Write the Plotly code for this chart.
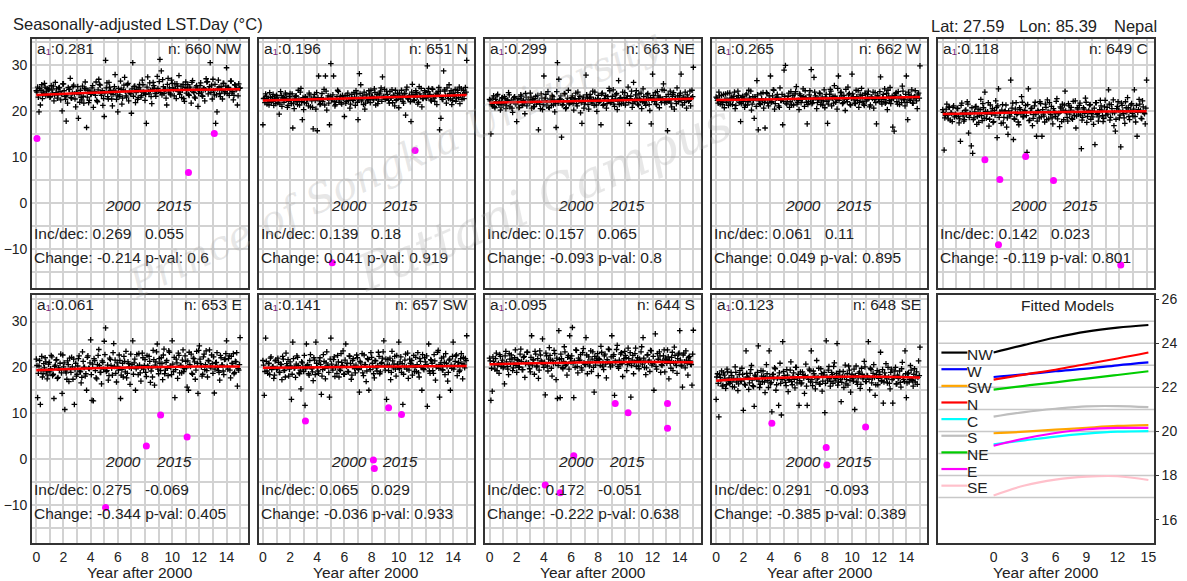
import numpy as np
import plotly.graph_objects as go

W, H = 1187, 581
FONT = "Arial, Liberation Sans, sans-serif"

# ---------------- panel metadata ----------------
panels = ["NW", "N", "NE", "W", "C", "E", "SW", "S", "SE"]
a1_vals = ["0.281", "0.196", "0.299", "0.265", "0.118", "0.061", "0.141", "0.095", "0.123"]
n_obs = [660, 651, 663, 662, 649, 653, 657, 644, 648]
inc_vals = ["0.269", "0.139", "0.157", "0.061", "0.142", "0.275", "0.065", "0.172", "0.291"]
dec_vals = ["0.055", "0.18", "0.065", "0.11", "0.023", "-0.069", "0.029", "-0.051", "-0.093"]
change_vals = ["-0.214", "0.041", "-0.093", "0.049", "-0.119", "-0.344", "-0.036", "-0.222", "-0.385"]
pval_vals = ["0.6", "0.919", "0.8", "0.895", "0.801", "0.405", "0.933", "0.638", "0.389"]

# ---------------- seasonally adjusted series, sampled at t = 0.0, 0.1, ... 15.0 yr ----------------
lst_NW = [24.5, 25.3, 19.9, 21.4, 25.8, 24.2, 26.1, 23.4, 25.0, 24.7,
          23.1, 25.6, 24.0, 22.3, 26.3, 24.9, 23.6, 25.2, 22.5, 20.1,
          26.0, 23.3, 17.9, 21.8, 24.8, 27.2, 22.9, 25.4, 23.8, 21.0,
          24.1, 18.5, 22.0, 23.0, 25.5, 21.8, 26.4, 16.5, 24.6, 22.4,
          23.7, 25.1, 20.9, 24.3, 26.4, 22.1, 27.0, 25.7, 23.5, 21.3,
          18.9, 31.1, 26.2, 22.7, 25.3, 23.9, 21.2, 24.5, 28.0, 22.6,
          19.9, 23.2, 26.6, 21.6, 24.7, 27.4, 23.4, 25.8, 22.3, 24.0,
          19.6, 30.6, 25.4, 21.9, 24.8, 23.0, 25.9, 23.1, 26.8, 24.2,
          22.4, 17.4, 27.5, 23.8, 24.6, 21.7, 26.3, 25.0, 23.3, 27.6,
          24.4, 31.3, 28.8, 26.9, 23.9, 24.8, 21.4, 27.2, 25.1, 23.6,
          26.1, 24.7, 26.0, 22.8, 25.5, 27.8, 24.2, 23.0, 25.9, 22.2,
          26.4, 24.9, 23.7, 25.3, 21.8, 26.7, 24.1, 22.9, 25.6, 21.1,
          24.6, 26.2, 23.4, 25.0, 22.3, 27.1, 26.5, 24.8, 30.6, 25.7,
          27.0, 23.6, 17.4, 19.9, 26.8, 23.9, 25.4, 22.7, 26.1, 24.3,
          29.5, 25.2, 23.5, 26.6, 24.0, 22.5, 25.8, 24.7, 21.4, 26.0, 25.1]
lst_N = [17.1, 22.9, 23.8, 21.6, 22.4, 24.1, 22.0, 23.2, 21.3, 22.7,
         23.5, 21.9, 19.4, 24.3, 21.1, 23.0, 22.8, 23.6, 20.9, 22.2,
         23.9, 21.7, 16.4, 20.6, 23.3, 22.1, 24.6, 21.4, 25.0, 18.2,
         20.4, 23.1, 21.8, 22.6, 24.0, 21.0, 22.3, 16.2, 23.7, 20.5,
         15.8, 27.7, 21.5, 23.0, 22.2, 24.8, 27.7, 20.3, 23.4, 17.1,
         30.4, 22.8, 27.7, 21.2, 22.5, 24.6, 22.0, 23.3, 21.6, 22.9,
         18.9, 21.8, 23.5, 22.4, 20.7, 23.0, 22.6, 24.1, 21.3, 23.8,
         18.2, 28.2, 25.8, 22.7, 21.5, 20.5, 23.6, 22.3, 24.5, 21.9,
         23.2, 22.8, 24.9, 21.4, 23.7, 22.5, 24.0, 25.1, 27.5, 23.3,
         22.6, 24.4, 23.0, 21.8, 22.9, 24.7, 23.5, 21.2, 22.4, 23.9,
         20.8, 23.1, 24.6, 22.2, 23.8, 19.2, 25.3, 22.7, 23.4, 17.8,
         25.9, 22.5, 23.6, 24.1, 21.6, 25.4, 23.2, 21.0, 22.8, 24.5,
         23.0, 29.9, 25.0, 23.7, 22.3, 24.8, 22.9, 23.4, 21.5, 24.3,
         16.0, 18.5, 22.6, 28.8, 24.4, 21.8, 23.3, 25.8, 22.7, 21.5,
         24.0, 23.5, 22.2, 24.6, 23.0, 21.7, 24.9, 23.6, 22.8, 25.2, 31.1]
lst_NE = [22.6, 15.1, 21.2, 23.4, 20.8, 22.1, 23.7, 21.5, 20.3, 22.9,
          21.4, 23.2, 20.6, 22.5, 24.1, 21.0, 22.3, 19.8, 23.0, 21.7,
          17.8, 22.8, 20.9, 23.6, 21.3, 22.4, 19.5, 23.1, 21.8, 22.2,
          24.0, 20.7, 22.6, 21.1, 23.3, 22.0, 16.0, 21.6, 23.8, 20.4,
          27.7, 22.9, 21.2, 24.3, 20.8, 22.5, 23.5, 21.4, 19.9, 16.5,
          30.6, 27.0, 22.7, 14.4, 21.5, 23.9, 20.6, 22.3, 24.6, 21.8,
          22.0, 23.4, 20.3, 22.8, 21.7, 24.2, 22.4, 19.7, 17.4, 23.1,
          21.6, 27.9, 22.9, 20.5, 23.7, 22.1, 24.4, 21.3, 22.6, 20.0,
          23.5, 22.2, 17.1, 24.0, 21.5, 22.8, 20.7, 23.2, 25.0, 21.9,
          22.5, 24.7, 21.1, 23.6, 20.4, 26.7, 22.9, 21.7, 24.2, 23.0,
          21.4, 22.8, 25.3, 17.4, 23.3, 20.9, 26.3, 22.1, 24.5, 21.6,
          23.8, 22.4, 20.6, 24.9, 22.0, 21.3, 23.6, 22.7, 20.2, 17.3,
          28.1, 22.9, 24.1, 21.5, 23.4, 20.8, 22.6, 24.7, 26.0, 21.9,
          23.2, 15.8, 22.3, 24.4, 21.0, 23.7, 20.5, 22.8, 25.1, 22.1,
          23.5, 28.1, 21.4, 22.9, 24.2, 20.7, 23.0, 22.4, 21.2, 24.6, 29.6]
lst_W = [23.1, 22.4, 24.2, 21.6, 23.5, 22.0, 20.8, 23.8, 22.6, 21.3,
         24.0, 22.9, 21.5, 23.3, 20.6, 22.7, 24.4, 21.9, 17.8, 23.0,
         22.2, 20.9, 23.6, 21.4, 24.6, 22.5, 20.3, 23.2, 18.5, 22.8,
         26.7, 16.0, 21.7, 23.9, 22.3, 20.7, 16.4, 24.1, 21.8, 23.4,
         27.7, 22.1, 24.7, 20.5, 22.9, 23.7, 21.2, 25.1, 22.4, 17.1,
         29.0, 30.0, 21.6, 23.3, 20.9, 24.3, 22.7, 21.4, 23.8, 25.4,
         22.0, 20.4, 23.5, 22.6, 24.9, 21.1, 23.0, 17.3, 22.2, 24.5,
         29.1, 21.9, 27.4, 23.4, 20.6, 22.8, 24.0, 21.5, 23.1, 22.3,
         20.8, 23.7, 17.4, 22.5, 24.8, 21.2, 23.3, 25.6, 22.0, 20.5,
         27.7, 22.9, 24.2, 21.7, 23.5, 20.2, 22.6, 25.3, 23.9, 21.4,
         28.1, 23.2, 21.8, 24.6, 22.4, 20.9, 23.6, 25.0, 22.1, 21.3,
         23.8, 22.6, 24.4, 21.0, 23.1, 22.8, 20.7, 24.1, 17.3, 23.4,
         22.2, 27.5, 21.6, 23.7, 24.9, 22.0, 20.4, 23.3, 25.2, 22.5,
         16.6, 15.7, 23.9, 22.1, 24.3, 21.5, 23.0, 25.5, 22.7, 21.2,
         27.7, 18.2, 23.6, 22.4, 24.7, 21.8, 23.2, 22.9, 20.6, 24.0, 29.9]
lst_C = [20.4, 11.6, 19.1, 21.6, 18.4, 20.9, 19.7, 17.8, 21.2, 19.3,
         18.9, 20.6, 17.5, 13.5, 21.8, 19.0, 18.2, 20.3, 22.1, 15.3,
         19.6, 12.5, 10.9, 18.6, 21.0, 17.2, 20.5, 19.2, 22.6, 18.0,
         20.8, 24.2, 18.5, 19.9, 16.8, 21.4, 19.4, 17.6, 20.2, 22.3,
         14.3, 24.9, 19.8, 17.4, 21.5, 18.7, 20.1, 16.6, 15.0, 19.5,
         26.8, 20.7, 13.9, 18.3, 21.9, 19.6, 17.1, 20.4, 23.2, 18.8,
         19.9, 21.3, 11.1, 24.9, 18.1, 20.6, 16.9, 19.3, 22.0, 14.6,
         20.2, 18.6, 21.7, 14.6, 19.4, 17.7, 20.9, 22.5, 18.4, 19.8,
         21.1, 17.3, 20.0, 18.9, 22.8, 19.5, 16.7, 20.7, 21.6, 18.2,
         24.4, 19.7, 17.9, 21.2, 20.3, 18.5, 22.2, 19.1, 16.4, 20.8,
         19.4, 21.8, 11.9, 18.7, 20.5, 22.9, 17.6, 19.9, 21.4, 18.3,
         20.1, 17.2, 12.8, 21.9, 19.6, 18.8, 22.4, 20.3, 17.8, 21.0,
         19.2, 20.9, 24.7, 18.1, 21.5, 19.7, 16.9, 15.7, 20.6, 22.1,
         18.6, 12.3, 21.3, 19.5, 17.4, 20.8, 23.0, 18.9, 20.2, 21.7,
         19.0, 24.7, 17.7, 14.6, 20.4, 21.6, 18.5, 22.3, 19.8, 17.3, 26.8]
lst_E = [21.8, 13.4, 20.3, 11.9, 22.4, 18.6, 19.9, 21.2, 17.5, 20.7,
         19.0, 22.6, 18.2, 13.2, 20.5, 21.7, 17.8, 19.4, 22.9, 14.3,
         20.1, 10.8, 18.8, 21.4, 16.9, 19.6, 22.2, 17.4, 11.9, 20.9,
         18.5, 21.9, 19.2, 16.6, 23.4, 20.0, 18.1, 15.0, 22.5, 19.7,
         26.0, 12.8, 12.7, 21.5, 17.7, 20.6, 23.9, 18.9, 16.4, 21.1,
         25.7, 28.6, 19.3, 17.2, 22.0, 20.4, 18.3, 25.2, 21.6, 16.8,
         20.2, 22.7, 13.2, 19.5, 17.9, 21.3, 23.5, 18.7, 20.8, 16.3,
         19.8, 25.8, 21.0, 15.0, 22.8, 18.4, 20.5, 17.0, 23.1, 19.6,
         21.7, 18.0, 20.3, 22.4, 16.7, 19.9, 23.7, 16.1, 21.2, 25.1,
         18.6, 20.9, 22.1, 17.3, 24.0, 19.4, 21.5, 18.2, 23.3, 20.0,
         25.8, 19.1, 13.4, 21.8, 17.6, 22.6, 20.4, 18.8, 23.8, 19.7,
         21.3, 15.7, 15.0, 20.6, 22.9, 18.5, 21.9, 17.4, 23.5, 14.3,
         24.7, 20.8, 18.1, 22.3, 19.5, 23.6, 17.9, 21.4, 20.2, 22.7,
         18.7, 14.4, 21.0, 23.2, 19.3, 17.2, 22.1, 20.5, 18.4, 21.8,
         25.8, 19.6, 22.5, 17.7, 20.9, 23.0, 18.9, 21.2, 15.9, 19.4, 26.5]
lst_SW = [21.5, 13.9, 26.4, 19.2, 20.8, 18.4, 22.3, 20.1, 17.6, 21.4,
          19.6, 22.0, 18.9, 20.7, 17.3, 21.8, 19.4, 23.1, 20.3, 18.1,
          21.2, 13.0, 25.5, 19.8, 17.8, 22.5, 20.4, 18.6, 15.3, 21.0,
          19.1, 11.7, 25.1, 20.6, 18.3, 22.8, 19.7, 17.1, 21.6, 25.5,
          20.0, 18.7, 22.1, 14.1, 19.5, 21.3, 17.5, 23.4, 20.2, 13.5,
          26.4, 19.9, 21.7, 18.0, 20.5, 22.6, 17.9, 19.3, 21.1, 23.6,
          18.5, 25.1, 20.9, 19.0, 22.4, 17.4, 21.5, 20.3, 18.8, 22.7,
          19.8, 14.6, 21.0, 23.0, 18.2, 20.6, 16.9, 21.9, 15.0, 19.5,
          22.2, 20.0, 17.7, 21.4, 19.2, 23.3, 18.6, 20.8, 22.0, 25.8,
          19.4, 13.0, 21.7, 20.5, 17.3, 23.5, 19.9, 22.4, 18.1, 20.7,
          25.5, 21.2, 18.9, 11.9, 20.1, 22.9, 19.6, 17.6, 21.8, 20.4,
          18.3, 22.6, 20.0, 19.1, 23.2, 17.9, 21.3, 15.0, 19.7, 22.1,
          20.6, 11.5, 25.1, 18.7, 21.5, 19.3, 22.8, 17.2, 20.2, 23.7,
          13.5, 21.0, 19.5, 22.3, 18.4, 20.9, 17.0, 21.6, 15.0, 19.8,
          25.5, 20.3, 22.5, 18.2, 21.1, 19.4, 23.0, 17.5, 20.7, 21.9, 26.9]
lst_S = [22.0, 12.8, 14.8, 21.3, 19.6, 23.1, 20.5, 18.7, 22.4, 21.0,
         19.9, 16.4, 23.5, 20.2, 18.4, 21.8, 22.7, 19.3, 20.9, 23.8,
         18.9, 21.5, 20.1, 24.0, 19.5, 22.2, 17.8, 21.1, 23.3, 20.6,
         19.0, 26.9, 21.7, 18.5, 22.9, 20.3, 17.6, 23.6, 21.4, 26.2,
         20.0, 14.0, 22.5, 19.2, 24.3, 21.6, 18.1, 20.8, 23.0, 17.3,
         13.2, 28.0, 13.4, 21.9, 19.7, 24.5, 20.4, 18.3, 22.6, 26.9,
         21.2, 28.7, 13.4, 20.0, 23.7, 18.8, 21.5, 22.8, 19.4, 24.1,
         20.7, 26.5, 18.6, 22.3, 21.0, 19.1, 23.4, 14.6, 20.5, 22.0,
         18.2, 21.7, 24.6, 20.3, 19.5, 22.9, 17.7, 21.3, 23.9, 20.1,
         26.9, 22.4, 13.9, 21.1, 24.8, 19.8, 20.6, 23.2, 18.0, 21.9,
         22.6, 19.3, 24.2, 20.9, 13.5, 21.6, 18.6, 23.0, 20.2, 22.1,
         19.7, 21.4, 24.5, 26.5, 20.0, 18.4, 22.7, 21.2, 19.1, 23.6,
         20.8, 15.0, 27.3, 19.6, 21.8, 23.4, 18.9, 20.4, 22.5, 19.0,
         21.7, 23.8, 17.5, 20.9, 22.2, 19.3, 24.4, 21.0, 18.7, 22.9,
         28.0, 20.5, 15.7, 23.1, 19.9, 21.6, 18.3, 22.4, 20.7, 16.1, 28.1]
lst_SE = [13.0, 18.6, 9.2, 17.8, 19.2, 16.1, 18.3, 15.4, 19.6, 17.0,
          16.5, 18.9, 15.8, 17.5, 20.1, 16.8, 14.9, 18.4, 17.2, 19.8,
          10.6, 16.3, 23.6, 17.9, 15.2, 18.7, 20.4, 16.0, 11.5, 18.1,
          17.4, 24.7, 15.6, 19.3, 16.9, 18.0, 14.5, 20.6, 17.1, 23.6,
          16.4, 10.3, 18.5, 19.9, 15.0, 17.6, 11.7, 20.9, 9.6, 25.6,
          18.2, 16.7, 19.5, 14.7, 17.3, 21.2, 16.2, 18.8, 15.5, 20.0,
          17.7, 11.7, 19.0, 16.6, 18.4, 14.3, 20.7, 11.7, 17.4, 19.3,
          23.6, 16.0, 18.6, 15.3, 21.5, 17.8, 16.4, 19.7, 14.8, 18.3,
          10.1, 25.8, 17.2, 20.2, 15.9, 18.9, 16.5, 21.0, 17.6, 25.2,
          16.8, 19.1, 12.5, 18.0, 15.6, 20.5, 17.3, 16.1, 19.4, 14.6,
          18.5, 17.0, 10.8, 20.3, 16.3, 18.7, 15.4, 19.8, 17.5, 21.3,
          16.9, 18.2, 25.6, 15.1, 19.5, 17.7, 20.6, 13.9, 18.4, 16.2,
          19.0, 23.3, 17.1, 12.2, 18.8, 20.8, 16.6, 17.9, 15.3, 19.6,
          12.2, 18.1, 20.0, 16.4, 17.6, 19.2, 15.7, 21.1, 17.3, 23.6,
          13.4, 18.6, 16.8, 20.4, 17.4, 15.9, 19.7, 18.0, 16.3, 21.4, 24.4]

# ---------------- second set of samples, at t = 0.05, 0.15, ... 14.95 yr ----------------
lst2_NW = [24.2, 23.1, 25.0, 24.6, 22.8, 23.9, 25.3, 24.4, 23.5, 24.9,
           23.2, 24.7, 25.5, 23.6, 24.1, 22.9, 25.1, 24.3, 23.8, 26.0,
           24.5, 22.6, 23.4, 25.2, 24.8, 23.0, 24.0, 25.7, 22.7, 24.2,
           25.4, 23.7, 24.6, 22.5, 23.3, 25.0, 24.9, 23.1, 21.9, 24.4,
           23.8, 25.6, 24.2, 23.5, 22.4, 24.7, 25.9, 23.9, 24.5, 22.8,
           24.0, 25.1, 23.2, 26.3, 24.6, 22.7, 23.7, 25.4, 24.3, 23.4,
           25.0, 23.6, 24.8, 22.9, 25.7, 24.4, 23.1, 26.1, 24.2, 23.8,
           24.9, 23.3, 25.5, 24.1, 22.6, 25.2, 24.6, 23.5, 25.8, 24.0,
           23.7, 25.3, 24.4, 26.2, 23.2, 24.8, 25.6, 23.9, 24.3, 25.0,
           26.5, 24.1, 23.6, 25.4, 24.7, 22.9, 25.9, 24.2, 23.8, 26.8,
           25.1, 23.4, 24.9, 26.0, 24.3, 23.7, 25.5, 24.6, 22.8, 25.2,
           24.0, 25.8, 23.5, 24.8, 26.3, 24.4, 23.1, 25.3, 24.9, 23.9,
           25.6, 24.2, 23.3, 25.0, 24.7, 26.4, 23.8, 25.4, 24.1, 22.7,
           24.5, 25.9, 23.6, 24.9, 25.3, 23.2, 24.6, 26.1, 24.0, 25.5,
           23.9, 25.2, 24.7, 26.6, 24.3, 23.5, 25.7, 24.9, 23.4, 25.0]
lst2_N = [22.8, 21.9, 23.3, 22.5, 21.4, 23.0, 22.2, 23.7, 22.6, 21.7,
          23.1, 22.4, 21.6, 23.5, 22.9, 22.0, 24.0, 22.7, 21.3, 23.2,
          22.5, 23.8, 21.8, 22.9, 23.4, 21.5, 22.7, 24.2, 22.1, 23.0,
          21.9, 23.2, 22.6, 21.2, 23.6, 22.8, 20.9, 23.1, 22.4, 24.1,
          23.0, 22.3, 21.7, 23.9, 22.6, 21.4, 24.4, 22.9, 21.8, 23.3,
          22.5, 23.6, 22.1, 21.5, 23.2, 24.3, 22.7, 21.9, 23.5, 22.8,
          23.4, 22.2, 24.0, 22.8, 21.6, 23.7, 22.4, 23.1, 24.5, 22.0,
          22.7, 23.9, 22.3, 23.4, 24.2, 21.8, 23.0, 22.6, 23.8, 24.6,
          23.3, 22.5, 24.1, 22.9, 21.7, 23.6, 24.4, 22.2, 23.1, 24.8,
          22.8, 23.7, 22.4, 24.3, 23.0, 21.9, 23.5, 24.6, 22.6, 23.2,
          24.0, 22.7, 23.4, 21.8, 23.9, 24.7, 22.9, 23.3, 22.1, 24.2,
          23.6, 22.4, 24.5, 23.1, 22.0, 23.8, 25.0, 22.8, 23.5, 24.1,
          22.9, 24.3, 23.6, 22.5, 24.9, 23.2, 22.2, 24.0, 23.7, 25.2,
          24.4, 23.0, 22.6, 24.7, 23.4, 25.1, 22.8, 23.9, 24.5, 22.4,
          23.3, 24.8, 22.9, 24.1, 25.3, 23.5, 22.6, 24.6, 23.8, 24.2]
lst2_NE = [22.3, 21.5, 22.9, 21.1, 22.6, 23.4, 21.8, 22.2, 20.9, 23.0,
           21.7, 22.8, 21.3, 22.4, 23.6, 21.9, 20.7, 22.5, 23.2, 21.6,
           22.1, 20.8, 22.7, 23.3, 21.4, 22.0, 23.9, 21.2, 22.6, 21.8,
           23.1, 22.3, 21.0, 22.8, 21.6, 23.5, 22.2, 20.6, 22.9, 21.5,
           22.4, 23.7, 21.9, 20.9, 22.7, 21.3, 23.2, 22.5, 21.7, 24.3,
           21.8, 22.6, 23.4, 21.4, 22.1, 23.8, 20.8, 22.9, 21.6, 22.3,
           23.0, 21.7, 22.5, 24.0, 21.2, 22.8, 23.3, 21.9, 22.4, 20.7,
           22.2, 23.6, 21.5, 22.9, 23.1, 21.8, 22.6, 24.2, 21.4, 22.7,
           21.9, 22.4, 23.8, 21.3, 22.8, 23.5, 21.7, 22.3, 24.5, 22.0,
           23.3, 21.6, 22.7, 23.9, 22.2, 21.5, 23.0, 22.6, 21.8, 24.1,
           22.5, 23.4, 21.9, 22.8, 24.4, 21.7, 22.3, 23.6, 22.9, 21.4,
           22.7, 24.0, 22.1, 23.2, 21.8, 22.6, 23.9, 21.5, 23.0, 22.4,
           23.5, 22.2, 21.6, 24.3, 22.9, 23.1, 21.9, 22.7, 24.6, 22.3,
           22.0, 23.7, 22.5, 21.8, 23.3, 24.1, 22.6, 21.7, 23.4, 22.8,
           24.0, 22.4, 23.1, 21.9, 22.7, 23.6, 22.2, 24.4, 22.9, 23.2]
lst2_W = [22.9, 21.8, 23.4, 22.2, 21.5, 23.7, 22.6, 21.9, 24.0, 22.3,
          21.6, 23.1, 22.5, 24.2, 21.3, 22.8, 23.5, 22.0, 21.7, 23.3,
          22.7, 21.4, 23.8, 22.1, 22.9, 24.4, 21.6, 22.4, 23.2, 21.1,
          23.6, 22.3, 21.5, 22.8, 24.1, 21.9, 22.6, 23.9, 21.2, 22.5,
          22.0, 23.4, 24.6, 21.7, 22.9, 23.1, 20.9, 22.4, 23.7, 22.2,
          23.3, 21.8, 22.6, 24.0, 22.1, 21.4, 23.5, 22.8, 24.3, 21.6,
          22.4, 23.8, 21.9, 22.7, 23.2, 24.5, 22.0, 21.5, 23.6, 22.9,
          21.7, 22.5, 24.2, 23.0, 21.9, 22.6, 23.9, 22.3, 21.4, 24.7,
          23.1, 22.2, 21.6, 23.7, 24.4, 22.8, 21.8, 23.3, 22.6, 25.0,
          22.4, 24.1, 23.4, 21.9, 22.7, 24.8, 22.1, 23.6, 21.5, 22.9,
          23.8, 22.5, 21.7, 23.2, 24.5, 22.0, 22.9, 23.5, 21.6, 24.0,
          22.3, 23.7, 22.8, 21.4, 23.1, 24.2, 22.6, 21.9, 23.4, 22.7,
          24.3, 22.1, 23.0, 22.6, 21.8, 23.9, 24.6, 22.4, 21.7, 23.3,
          22.8, 23.5, 24.1, 21.6, 22.9, 23.2, 21.9, 24.4, 22.5, 23.7,
          22.0, 24.2, 22.7, 23.4, 21.8, 23.0, 24.5, 22.3, 23.6, 22.9]
lst2_C = [19.8, 18.6, 20.5, 19.2, 21.0, 18.1, 19.6, 20.9, 18.8, 19.4,
          20.7, 19.0, 18.4, 21.3, 19.7, 17.9, 20.2, 19.3, 21.6, 18.7,
          19.5, 20.8, 18.2, 19.9, 21.1, 18.9, 17.6, 20.4, 19.1, 21.7,
          18.5, 20.0, 19.4, 21.9, 18.3, 19.8, 20.6, 17.8, 19.2, 20.9,
          21.2, 18.7, 19.6, 20.3, 17.5, 19.9, 21.4, 18.6, 20.1, 19.0,
          19.7, 21.8, 18.4, 20.5, 19.3, 17.7, 20.8, 19.5, 22.0, 18.9,
          20.2, 19.1, 21.5, 18.0, 19.8, 20.7, 18.5, 21.2, 19.4, 17.9,
          19.9, 22.1, 18.8, 20.4, 19.0, 21.6, 18.2, 20.0, 21.9, 19.3,
          18.6, 20.6, 19.7, 22.2, 18.4, 19.6, 21.0, 17.8, 20.3, 21.4,
          20.1, 18.7, 21.7, 19.4, 20.9, 18.3, 19.8, 22.3, 19.0, 20.5,
          21.3, 19.2, 18.1, 20.8, 19.6, 22.0, 18.9, 20.2, 21.5, 19.5,
          18.8, 20.7, 21.9, 19.3, 17.9, 20.4, 21.2, 19.1, 18.5, 22.4,
          20.0, 19.4, 21.6, 18.7, 20.6, 22.5, 19.7, 18.3, 21.1, 20.3,
          19.2, 21.8, 20.1, 18.6, 22.1, 19.9, 20.8, 18.2, 21.4, 19.6,
          20.5, 18.9, 21.3, 19.8, 22.6, 20.2, 18.4, 21.0, 19.5, 20.7]
lst2_E = [20.4, 18.7, 21.5, 19.3, 17.9, 20.8, 22.1, 19.0, 18.3, 21.1,
          19.7, 22.3, 18.5, 20.2, 21.6, 17.6, 19.9, 20.9, 18.8, 22.7,
          21.0, 19.2, 17.4, 20.6, 22.0, 18.9, 20.1, 21.8, 19.5, 18.1,
          20.3, 22.5, 19.0, 17.8, 21.3, 20.0, 18.6, 22.2, 19.8, 21.0,
          18.4, 20.7, 21.9, 19.3, 17.5, 22.6, 20.4, 18.9, 21.4, 19.6,
          22.8, 19.1, 20.5, 18.2, 21.7, 19.8, 23.2, 20.2, 18.7, 21.0,
          19.4, 21.5, 18.3, 20.9, 22.4, 19.0, 17.7, 21.2, 20.1, 22.9,
          20.6, 18.5, 21.8, 19.7, 20.3, 23.0, 18.8, 19.9, 22.1, 20.4,
          18.9, 22.6, 20.0, 21.3, 19.2, 17.9, 21.7, 20.5, 23.4, 19.6,
          21.9, 19.3, 20.8, 22.7, 18.6, 21.1, 19.8, 23.6, 20.3, 18.4,
          20.7, 22.2, 19.5, 21.0, 23.1, 18.8, 20.4, 21.6, 19.1, 22.5,
          19.9, 21.4, 23.3, 20.2, 18.7, 22.0, 21.2, 19.4, 20.9, 23.7,
          21.8, 20.1, 18.5, 22.9, 20.6, 19.3, 21.5, 23.8, 19.9, 20.8,
          22.3, 19.6, 21.1, 20.0, 18.9, 22.6, 20.5, 19.2, 21.7, 23.0,
          20.2, 21.9, 19.4, 22.4, 20.8, 18.6, 21.3, 23.2, 19.7, 20.6]
lst2_SW = [20.5, 19.1, 21.3, 18.7, 20.9, 22.0, 19.5, 20.2, 18.3, 21.6,
           19.8, 21.1, 18.9, 20.6, 22.4, 19.3, 17.9, 20.8, 21.7, 19.6,
           20.3, 18.5, 21.9, 19.9, 20.7, 22.2, 18.8, 19.4, 21.2, 20.0,
           22.6, 19.7, 20.4, 18.6, 21.5, 20.1, 19.0, 22.1, 18.4, 20.9,
           19.2, 21.4, 20.6, 18.1, 22.8, 19.8, 21.0, 20.3, 18.9, 21.8,
           20.7, 19.4, 22.3, 20.0, 18.7, 21.2, 19.6, 23.0, 20.4, 18.5,
           21.6, 20.2, 19.1, 22.5, 20.8, 18.3, 21.9, 19.7, 20.5, 22.1,
           19.5, 21.3, 20.0, 18.8, 22.7, 20.6, 19.2, 21.7, 20.1, 23.2,
           20.9, 18.6, 21.5, 19.9, 20.4, 22.4, 19.0, 21.1, 23.4, 20.3,
           21.8, 20.5, 19.3, 22.0, 18.9, 21.4, 20.7, 19.6, 22.6, 20.0,
           19.7, 22.3, 20.8, 18.5, 21.6, 20.2, 23.1, 19.4, 20.9, 21.5,
           20.4, 19.1, 22.2, 20.6, 18.8, 21.9, 20.0, 22.8, 19.5, 21.2,
           22.5, 20.3, 19.2, 21.7, 20.9, 18.7, 21.4, 20.1, 23.3, 19.8,
           20.6, 22.0, 19.4, 21.1, 23.0, 20.2, 18.9, 21.8, 20.5, 22.4,
           19.6, 21.3, 22.7, 20.4, 19.1, 21.9, 20.8, 22.2, 19.9, 21.5]
lst2_S = [21.4, 19.8, 22.3, 20.6, 21.9, 19.3, 20.9, 22.8, 20.2, 21.6,
          20.1, 22.5, 21.2, 19.6, 23.0, 20.7, 21.8, 19.9, 22.1, 20.4,
          21.7, 20.0, 22.9, 21.3, 19.5, 22.4, 20.8, 23.3, 21.0, 19.7,
          22.2, 20.5, 21.6, 23.5, 20.1, 21.9, 19.4, 22.7, 21.2, 20.6,
          21.1, 23.1, 20.3, 21.8, 22.6, 19.8, 21.5, 23.7, 20.9, 22.0,
          20.4, 21.7, 22.9, 20.0, 21.3, 23.4, 20.7, 22.2, 19.6, 21.9,
          22.5, 20.8, 21.4, 23.8, 20.2, 22.0, 21.6, 19.9, 23.2, 21.0,
          20.6, 22.7, 21.2, 20.3, 23.6, 21.8, 20.0, 22.4, 21.5, 23.0,
          21.9, 20.4, 23.3, 21.1, 22.5, 20.7, 21.7, 24.0, 20.9, 22.3,
          20.5, 22.8, 21.4, 23.9, 20.2, 21.6, 22.9, 20.8, 21.3, 23.5,
          22.1, 20.6, 21.9, 23.2, 20.4, 22.6, 21.0, 24.2, 21.5, 20.3,
          21.8, 23.4, 20.7, 22.0, 21.3, 19.9, 22.8, 21.6, 23.7, 20.5,
          22.4, 21.1, 20.2, 23.0, 21.7, 22.5, 20.6, 21.4, 23.8, 22.0,
          20.9, 22.3, 21.5, 19.8, 23.3, 21.0, 22.6, 20.4, 21.9, 23.1,
          21.6, 20.3, 22.7, 21.2, 23.6, 20.8, 22.1, 21.4, 20.6, 22.9]
lst2_SE = [17.9, 16.5, 18.4, 17.1, 15.9, 18.8, 17.5, 16.2, 19.0, 17.7,
           16.8, 18.2, 17.3, 15.7, 18.9, 17.6, 16.4, 19.3, 17.0, 18.5,
           17.4, 16.1, 18.7, 17.8, 16.6, 19.5, 17.2, 15.8, 18.3, 17.6,
           18.9, 17.0, 16.3, 18.1, 19.2, 16.8, 17.7, 18.6, 15.6, 17.9,
           16.7, 18.4, 17.5, 19.7, 16.2, 17.8, 18.8, 16.5, 17.3, 19.1,
           17.6, 16.0, 18.3, 17.2, 19.4, 16.9, 18.0, 17.4, 20.0, 16.6,
           18.5, 17.1, 16.4, 19.0, 17.7, 18.2, 15.9, 17.9, 19.6, 16.8,
           17.3, 19.2, 18.1, 16.7, 17.5, 19.8, 16.3, 18.6, 17.0, 18.9,
           16.5, 18.0, 19.4, 17.6, 16.9, 18.4, 20.2, 17.2, 18.7, 16.1,
           18.3, 17.4, 16.7, 19.1, 17.9, 16.4, 18.6, 20.3, 17.1, 18.0,
           17.5, 19.6, 18.2, 16.8, 17.7, 19.0, 16.3, 18.5, 17.9, 20.1,
           16.9, 18.1, 17.4, 19.8, 16.6, 18.7, 17.8, 16.2, 19.3, 17.6,
           18.4, 17.0, 19.5, 16.8, 18.1, 17.5, 20.0, 16.5, 18.9, 17.3,
           17.7, 19.2, 16.4, 18.3, 17.9, 16.7, 19.7, 18.0, 16.9, 18.6,
           16.6, 18.8, 17.4, 19.4, 17.1, 18.5, 16.8, 19.0, 17.8, 18.2]

# ---------------- anomalies (magenta) ----------------
out_NW_x, out_NW_y = [0.05, 11.2, 13.1], [14.1, 6.7, 15.2]
out_N_x, out_N_y = [11.2, 5.1], [11.5, -12.9]
out_NE_x, out_NE_y = [], []
out_W_x, out_W_y = [], []
out_C_x, out_C_y = [3.1, 4.2, 6.1, 8.15, 4.1, 13.1], [9.5, 5.2, 10.2, 5.0, -9.0, -13.4]
out_E_x, out_E_y = [8.1, 9.15, 11.1, 5.1], [2.85, 9.6, 4.8, -10.6]
out_SW_x, out_SW_y = [3.13, 9.25, 10.2, 8.13, 8.2], [8.3, 11.2, 9.7, -0.2, -2.1]
out_S_x, out_S_y = [9.25, 10.2, 13.1, 13.1, 6.2, 4.1, 5.2], [12.1, 10.1, 12.1, 6.7, 0.7, -5.7, -7.4]
out_SE_x, out_SE_y = [4.1, 11.0, 8.1, 8.15], [7.8, 7.0, 2.5, -1.3]

# ---------------- fitted models ----------------
model_x = [0, 3, 6, 9, 12, 15]
mod_NW = [23.58, 23.93, 24.26, 24.53, 24.71, 24.83]
mod_N = [22.35, 22.58, 22.80, 23.06, 23.31, 23.58]
mod_NE = [21.90, 22.07, 22.23, 22.40, 22.56, 22.73]
mod_W = [22.47, 22.59, 22.73, 22.85, 23.00, 23.13]
mod_C = [19.42, 19.60, 19.77, 19.90, 19.99, 20.02]
mod_E = [19.35, 19.68, 19.93, 20.10, 20.16, 20.16]
mod_SW = [19.92, 19.99, 20.08, 20.17, 20.25, 20.29]
mod_S = [20.67, 20.88, 21.03, 21.14, 21.15, 21.10]
mod_SE = [17.10, 17.55, 17.82, 17.95, 17.97, 17.80]

legend_order = ["NW", "W", "SW", "N", "C", "S", "NE", "E", "SE"]
model_colors = {"NW": "#000000", "W": "#0000ff", "SW": "#ffa500", "N": "#ff0000",
                "C": "#00ffff", "S": "#bebebe", "NE": "#00cd00", "E": "#ff00ff",
                "SE": "#ffc0cb"}

series = {"NW": lst_NW, "N": lst_N, "NE": lst_NE, "W": lst_W, "C": lst_C,
          "E": lst_E, "SW": lst_SW, "S": lst_S, "SE": lst_SE}
series2 = {"NW": lst2_NW, "N": lst2_N, "NE": lst2_NE, "W": lst2_W, "C": lst2_C,
           "E": lst2_E, "SW": lst2_SW, "S": lst2_S, "SE": lst2_SE}
outliers = {"NW": (out_NW_x, out_NW_y), "N": (out_N_x, out_N_y), "NE": (out_NE_x, out_NE_y),
            "W": (out_W_x, out_W_y), "C": (out_C_x, out_C_y), "E": (out_E_x, out_E_y),
            "SW": (out_SW_x, out_SW_y), "S": (out_S_x, out_S_y), "SE": (out_SE_x, out_SE_y)}
models = {"NW": mod_NW, "N": mod_N, "NE": mod_NE, "W": mod_W, "C": mod_C,
          "E": mod_E, "SW": mod_SW, "S": mod_S, "SE": mod_SE}

# sample times (years after 2000)
t_years = np.arange(len(lst_NW)) / 10.0
t_years2 = np.arange(len(lst2_NW)) / 10.0 + 0.05

# ---------------- layout geometry (pixels) ----------------
col_left = [32, 259, 486, 713, 940]
pw = 216
row_top = [35, 293]
ph = [251, 250]


def fx(p):
    return p / W


def fy(p):
    return 1 - p / H


fig = go.Figure()
layout = dict(width=W, height=H, margin=dict(l=0, r=0, t=0, b=0),
              paper_bgcolor="white", plot_bgcolor="white", showlegend=False,
              font=dict(family=FONT, color="#222", size=14), autosize=False)
annotations = []
shapes = []

GRID = "#d2d2d2"
FRAME = "#333333"
pt_marker = dict(symbol="cross-thin-open", size=4, color="black",
                 line=dict(width=1.3, color="black"))

for k in range(10):
    r, c = divmod(k, 5)
    idx = k + 1
    xname = "xaxis" if idx == 1 else f"xaxis{idx}"
    yname = "yaxis" if idx == 1 else f"yaxis{idx}"
    xa = "x" if idx == 1 else f"x{idx}"
    ya = "y" if idx == 1 else f"y{idx}"
    L = col_left[c]
    T = row_top[r]
    hh = ph[r]
    xdom = [fx(L), fx(L + pw)]
    ydom = [fy(T + hh), fy(T)]
    if k < 9:
        layout[xname] = dict(domain=xdom, anchor=ya, range=[-0.32, 15.55],
                             tickvals=list(range(0, 16, 2)),
                             minor=dict(tickvals=list(range(1, 16, 2)), showgrid=True,
                                        gridcolor=GRID, gridwidth=1.5, ticks=""),
                             showticklabels=(r == 1), showgrid=True, gridcolor=GRID, gridwidth=1.5,
                             zeroline=False, showline=True, mirror=True, linecolor=FRAME,
                             linewidth=1.5, ticks="", tickfont=dict(size=14, color="#222"))
        layout[yname] = dict(domain=ydom, anchor=xa, range=[-18.4, 35.8],
                             tickvals=[-10, 0, 10, 20, 30],
                             minor=dict(tickvals=[-15, -5, 5, 15, 25, 35], showgrid=True,
                                        gridcolor=GRID, gridwidth=1.5, ticks=""),
                             showticklabels=(c == 0), showgrid=True, gridcolor=GRID, gridwidth=1.5,
                             zeroline=False, showline=True, mirror=True, linecolor=FRAME,
                             linewidth=1.5, ticks="", tickfont=dict(size=14, color="#222"))
        name = panels[k]
        fig.add_trace(go.Scatter(x=t_years, y=series[name], mode="markers", xaxis=xa, yaxis=ya,
                                 marker=pt_marker, hoverinfo="skip"))
        fig.add_trace(go.Scatter(x=t_years2, y=series2[name], mode="markers", xaxis=xa, yaxis=ya,
                                 marker=pt_marker, hoverinfo="skip"))
        fig.add_trace(go.Scatter(x=model_x, y=models[name], mode="lines", xaxis=xa, yaxis=ya,
                                 line=dict(color="#ff0000", width=2.5, shape="spline"),
                                 hoverinfo="skip"))
        ox, oy = outliers[name]
        fig.add_trace(go.Scatter(x=ox, y=oy, mode="markers", xaxis=xa, yaxis=ya,
                                 marker=dict(symbol="circle", size=7, color="#ff00ff"),
                                 hoverinfo="skip"))
        # panel texts
        tf = dict(family=FONT, size=15.5, color="#222")
        annotations += [
            dict(text=f"a<span style='color:#7d2a7d'>\u2081</span>:{a1_vals[k]}",
                 x=fx(L + 3), y=fy(T + 10), xref="paper", yref="paper",
                 xanchor="left", yanchor="middle", showarrow=False, font=tf),
            dict(text=f"n: {n_obs[k]} {name}", x=fx(L + 212), y=fy(T + 10),
                 xref="paper", yref="paper", xanchor="right", yanchor="middle",
                 showarrow=False, font=tf),
            dict(text="<i>2000</i>", x=fx(L + 91), y=fy(T + 168), xref="paper", yref="paper",
                 xanchor="center", yanchor="middle", showarrow=False, font=tf),
            dict(text="<i>2015</i>", x=fx(L + 142), y=fy(T + 168), xref="paper", yref="paper",
                 xanchor="center", yanchor="middle", showarrow=False, font=tf),
            dict(text=f"Inc/dec: {inc_vals[k]}", x=fx(L), y=fy(T + 196), xref="paper",
                 yref="paper", xanchor="left", yanchor="middle", showarrow=False, font=tf),
            dict(text=dec_vals[k], x=fx(L + 111), y=fy(T + 196), xref="paper",
                 yref="paper", xanchor="left", yanchor="middle", showarrow=False, font=tf),
            dict(text=f"Change: {change_vals[k]} p-val: {pval_vals[k]}", x=fx(L), y=fy(T + 220),
                 xref="paper", yref="paper", xanchor="left", yanchor="middle",
                 showarrow=False, font=tf),
        ]
    else:
        layout[xname] = dict(domain=xdom, anchor=ya, range=[-5.35, 15.55],
                             tickvals=[0, 3, 6, 9, 12, 15], showgrid=False, zeroline=False,
                             showline=True, mirror=True, linecolor=FRAME, linewidth=1.5,
                             ticks="", tickfont=dict(size=14, color="#222"))
        layout[yname] = dict(domain=ydom, anchor=xa, range=[14.93, 26.19], side="right",
                             tickvals=[16, 18, 20, 22, 24, 26], showgrid=False, zeroline=False,
                             showline=True, mirror=True, linecolor=FRAME, linewidth=1.5,
                             ticks="outside", ticklen=3, tickcolor=FRAME,
                             tickfont=dict(size=14, color="#222"))
        for gv in range(17, 26):
            shapes.append(dict(type="line", xref=f"{xa} domain", yref=ya, x0=0, x1=1,
                               y0=gv, y1=gv, line=dict(color="#c8c8c8", width=1.5),
                               layer="below"))
        for name in legend_order:
            fig.add_trace(go.Scatter(x=model_x, y=models[name], mode="lines", xaxis=xa, yaxis=ya,
                                     line=dict(color=model_colors[name], width=2.2, shape="spline"),
                                     hoverinfo="skip"))
        annotations.append(dict(text="Fitted Models", x=fx(L + 129), y=fy(T + 11),
                                xref="paper", yref="paper", xanchor="center", yanchor="middle",
                                showarrow=False, font=dict(family=FONT, size=15.5, color="#222")))
        for j, name in enumerate(legend_order):
            ly = 351 + j * 16.75
            shapes.append(dict(type="line", xref="paper", yref="paper", x0=fx(943), x1=fx(969),
                               y0=fy(ly), y1=fy(ly),
                               line=dict(color=model_colors[name], width=2.2)))
            annotations.append(dict(text=name, x=fx(967), y=fy(ly + 2), xref="paper",
                                    yref="paper", xanchor="left", yanchor="middle",
                                    showarrow=False,
                                    font=dict(family=FONT, size=15.5, color="#222")))

# x-axis titles
for c in range(5):
    annotations.append(dict(text="Year after 2000", x=fx(col_left[c] + pw / 2), y=fy(572),
                            xref="paper", yref="paper", xanchor="center", yanchor="middle",
                            showarrow=False, font=dict(family=FONT, size=15.5, color="#222")))

# titles
annotations += [
    dict(text="Seasonally-adjusted LST.Day (°C)", x=fx(11), y=fy(20), xref="paper", yref="paper",
         xanchor="left", yanchor="middle", showarrow=False,
         font=dict(family=FONT, size=16.5, color="#222")),
    dict(text="Lat: 27.59", x=fx(931), y=fy(22), xref="paper", yref="paper",
         xanchor="left", yanchor="middle", showarrow=False,
         font=dict(family=FONT, size=16.5, color="#222")),
    dict(text="Lon: 85.39", x=fx(1019), y=fy(22), xref="paper", yref="paper",
         xanchor="left", yanchor="middle", showarrow=False,
         font=dict(family=FONT, size=16.5, color="#222")),
    dict(text="Nepal", x=fx(1114), y=fy(22), xref="paper", yref="paper",
         xanchor="left", yanchor="middle", showarrow=False,
         font=dict(family=FONT, size=16.5, color="#222")),
]

# watermark
annotations += [
    dict(text="<i>Prince of Songkla University</i>", x=fx(395), y=fy(160), xref="paper",
         yref="paper", xanchor="center", yanchor="middle", showarrow=False, textangle=-25,
         font=dict(family="DejaVu Serif", size=40, color="rgba(170,170,170,0.28)")),
    dict(text="<i>Pattani Campus</i>", x=fx(545), y=fy(195), xref="paper", yref="paper",
         xanchor="center", yanchor="middle", showarrow=False, textangle=-23,
         font=dict(family="DejaVu Serif", size=50, color="rgba(170,170,170,0.28)")),
]

layout["annotations"] = annotations
layout["shapes"] = shapes
fig.update_layout(**layout)
fig.write_html("out.html")
